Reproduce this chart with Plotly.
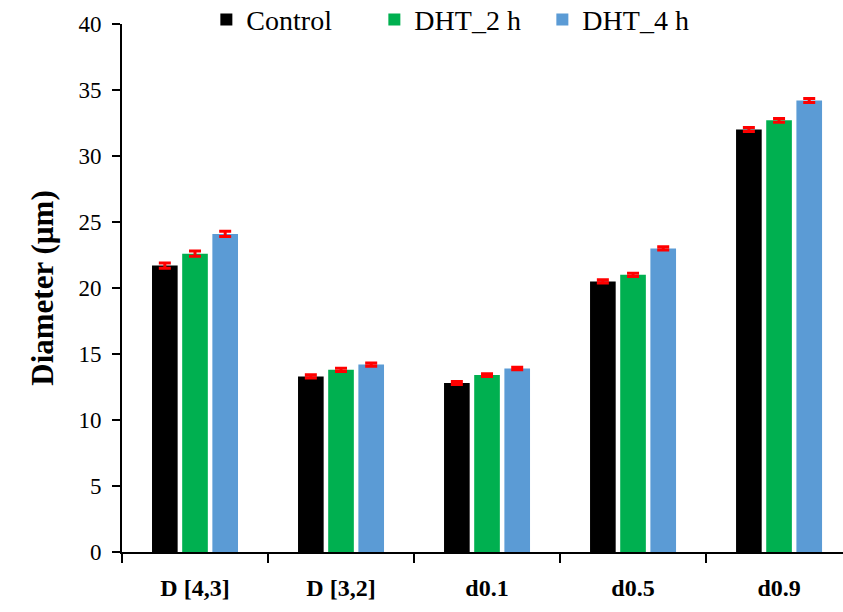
import plotly.graph_objects as go

categories = ["D [4,3]", "D [3,2]", "d0.1", "d0.5", "d0.9"]
series_names = ["Control", "DHT_2 h", "DHT_4 h"]
control = [21.7, 13.3, 12.8, 20.5, 32.0]
dht2 = [22.6, 13.8, 13.4, 21.0, 32.7]
dht4 = [24.1, 14.2, 13.9, 23.0, 34.2]
err_control = [0.2, 0.12, 0.12, 0.12, 0.15]
err_dht2 = [0.2, 0.12, 0.1, 0.12, 0.15]
err_dht4 = [0.2, 0.12, 0.1, 0.12, 0.15]
colors = ["#000000", "#00B050", "#5B9BD5"]
y_ticks = [0, 5, 10, 15, 20, 25, 30, 35, 40]

font_family = "Liberation Serif, Times New Roman, serif"

fig = go.Figure()
for name, vals, errs, col in zip(series_names, [control, dht2, dht4],
                                 [err_control, err_dht2, err_dht4], colors):
    fig.add_trace(go.Bar(
        x=categories, y=vals, name=name,
        marker=dict(color=col, line=dict(width=0)),
        error_y=dict(type="data", array=errs, visible=True,
                     color="#FF0000", thickness=3, width=6),
    ))

fig.update_layout(
    width=843, height=612,
    margin=dict(l=122, r=0, t=24, b=60, autoexpand=False),
    paper_bgcolor="white", plot_bgcolor="white",
    barmode="group", bargap=0.38, bargroupgap=0.15,
    font=dict(family=font_family, color="#000000", size=20),
    legend=dict(orientation="h", x=0.117, xanchor="left", y=1.008, yanchor="middle",
                font=dict(family=font_family, size=28, color="#000000"),
                itemwidth=30, entrywidth=123, tracegroupgap=0, bgcolor="rgba(0,0,0,0)"),
    showlegend=True,
)
fig.update_xaxes(
    type="category", range=[-0.5, 4.438],
    tickson="boundaries", ticks="outside", ticklen=9, tickwidth=2, tickcolor="#000",
    showline=True, linecolor="#000", linewidth=2,
    tickfont=dict(family=font_family, size=24, color="#000", weight="bold"),
    ticklabelstandoff=13,
    showgrid=False, zeroline=False,
)
fig.update_yaxes(
    range=[0, 40], tickvals=y_ticks,
    ticks="outside", ticklen=8, tickwidth=2, tickcolor="#000",
    showline=True, linecolor="#000", linewidth=2,
    tickfont=dict(family=font_family, size=23, color="#000"),
    ticklabelstandoff=6,
    showgrid=False, zeroline=False,
    title=dict(text="<b>Diameter (µm)</b>", font=dict(family=font_family, size=31, color="#000"),
               standoff=16),
)

fig.write_html("out.html")
